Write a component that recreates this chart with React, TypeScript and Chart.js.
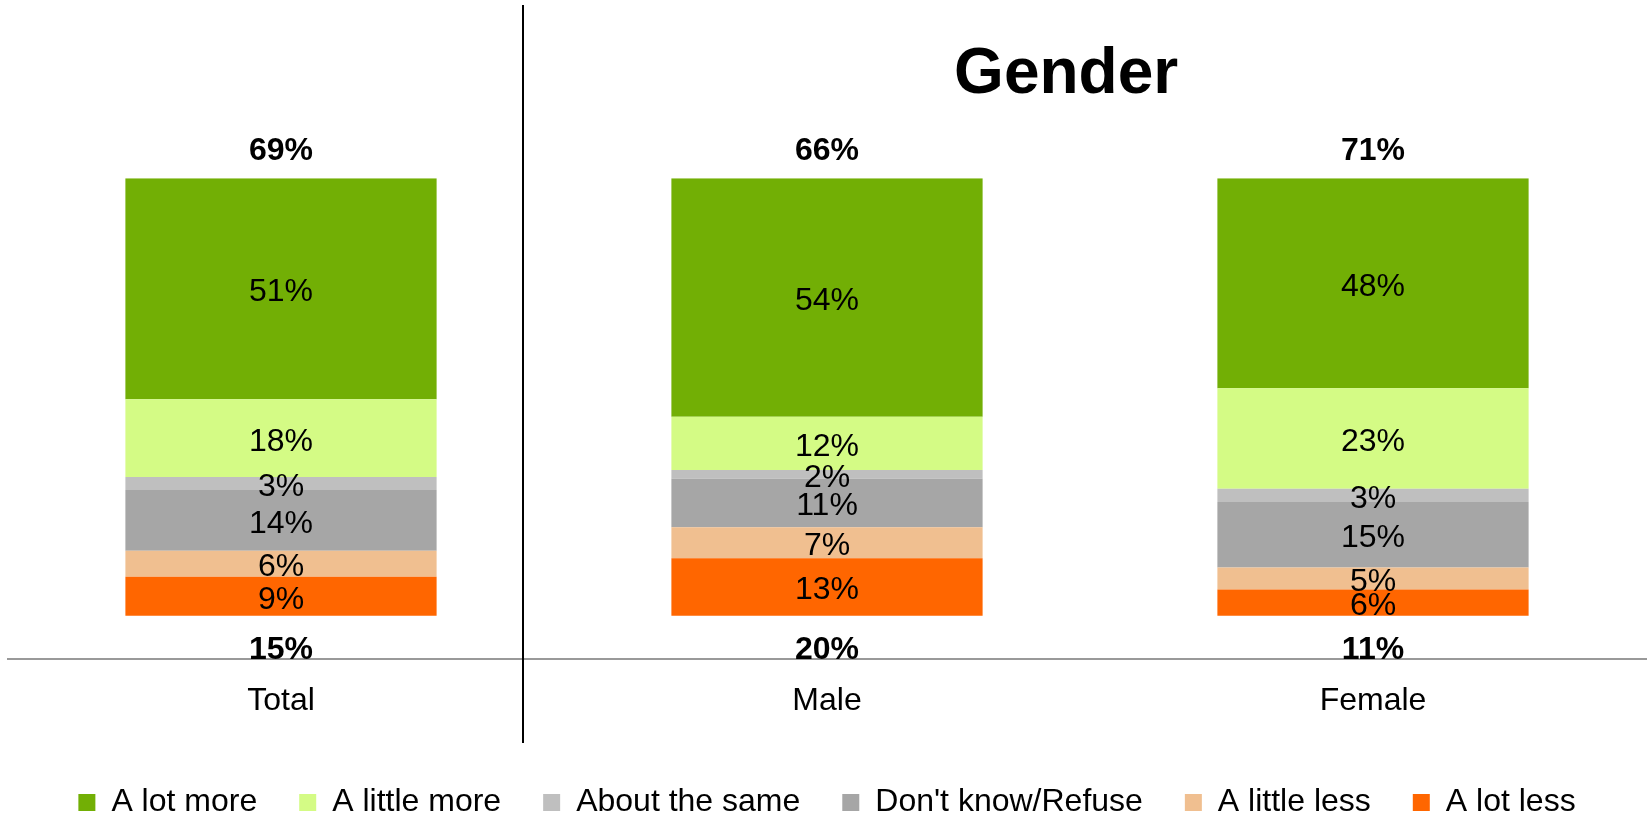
import React, { useEffect, useRef } from 'react';
import { Chart, registerables } from 'chart.js';

Chart.register(...registerables);

const FONT = '"Liberation Sans", Arial, sans-serif';

// ---- data ----
const categories = ['Total', 'Male', 'Female'];
const seriesNames = ['A lot less', 'A little less', "Don't know/Refuse", 'About the same', 'A little more', 'A lot more'];
const aLotLess = [9, 13, 6];
const aLittleLess = [6, 7, 5];
const dontKnow = [14, 11, 15];
const aboutSame = [3, 2, 3];
const aLittleMore = [18, 12, 23];
const aLotMore = [51, 54, 48];
const netMore = [69, 66, 71];
const netLess = [15, 20, 11];
const groupTitle = 'Gender';

const seriesColors = ['#FF6600', '#F0BF90', '#A6A6A6', '#BFBFBF', '#D4FB85', '#72AF05'];
const seriesValues = [aLotLess, aLittleLess, dontKnow, aboutSame, aLittleMore, aLotMore];

// 100% stacked: each column normalised to its total
const columnTotals = categories.map((_, i) => seriesValues.reduce((s, arr) => s + arr[i], 0));

const FS = 32;
const CAP_HALF = 0.716 * FS / 2;

const labelPlugin = {
  id: 'customLabels',
  afterDraw(chart: any) {
    const ctx = chart.ctx;
    const xs = chart.scales.x;
    const ys = chart.scales.y;
    ctx.save();
    ctx.fillStyle = '#000';
    ctx.textAlign = 'center';
    ctx.textBaseline = 'alphabetic';
    ctx.font = `${FS}px ${FONT}`;
    chart.data.datasets.forEach((_ds: any, di: number) => {
      const meta = chart.getDatasetMeta(di);
      meta.data.forEach((el: any, i: number) => {
        const p = el.getProps(['x', 'y', 'base'], true);
        ctx.fillText(`${seriesValues[di][i]}%`, p.x, (p.y + p.base) / 2 + CAP_HALF + 1);
      });
    });
    ctx.font = `bold ${FS}px ${FONT}`;
    categories.forEach((_c, i) => {
      const px = xs.getPixelForValue(i);
      ctx.fillText(`${netMore[i]}%`, px, ys.getPixelForValue(100) - 29.3 + CAP_HALF);
      ctx.fillText(`${netLess[i]}%`, px, ys.getPixelForValue(0) + 31.8 + CAP_HALF);
    });
    // separator between Total and the Gender group
    const sx = Math.round(xs.getPixelForValue(0.443));
    ctx.strokeStyle = '#000';
    ctx.lineWidth = 2;
    ctx.beginPath();
    ctx.moveTo(sx, 5);
    ctx.lineTo(sx, 743);
    ctx.stroke();
    // group title
    ctx.font = `bold 64px ${FONT}`;
    ctx.fillText(groupTitle, xs.getPixelForValue(1.438), 92.5);
    ctx.restore();
  },
};

export default function App() {
  const ref = useRef<HTMLCanvasElement | null>(null);

  useEffect(() => {
    if (!ref.current) return;
    const chart = new Chart(ref.current, {
      type: 'bar',
      data: {
        labels: categories,
        datasets: seriesNames.map((name, di) => ({
          label: name,
          data: seriesValues[di].map((v, i) => (v / columnTotals[i]) * 100),
          backgroundColor: seriesColors[di],
          borderWidth: 0,
          barPercentage: 0.57,
          categoryPercentage: 1,
        })),
      },
      options: {
        animation: false,
        responsive: true,
        maintainAspectRatio: false,
        layout: { padding: { top: 178.3, left: 8, right: 6, bottom: 0 } },
        scales: {
          x: {
            stacked: true,
            offset: true,
            grid: { display: false, drawTicks: false },
            border: { display: true, color: '#999999', width: 2 },
            ticks: { color: '#000', font: { family: FONT, size: FS }, padding: 23 },
            afterFit: (s: any) => {
              s.height = 85;
            },
          },
          y: { stacked: true, display: false, min: -10, max: 100 },
        },
        plugins: {
          legend: {
            position: 'bottom',
            reverse: true,
            maxHeight: 68.6,
            labels: {
              boxWidth: 17,
              boxHeight: 17,
              padding: 42,
              color: '#000',
              font: { family: FONT, size: FS },
            },
          },
          tooltip: { enabled: false },
          title: { display: false },
        },
      },
      plugins: [labelPlugin],
    } as any);
    return () => chart.destroy();
  }, []);

  return (
    <div style={{ position: 'fixed', left: 0, top: 0, width: 1652, height: 813, background: '#fff' }}>
      <canvas ref={ref} />
    </div>
  );
}
